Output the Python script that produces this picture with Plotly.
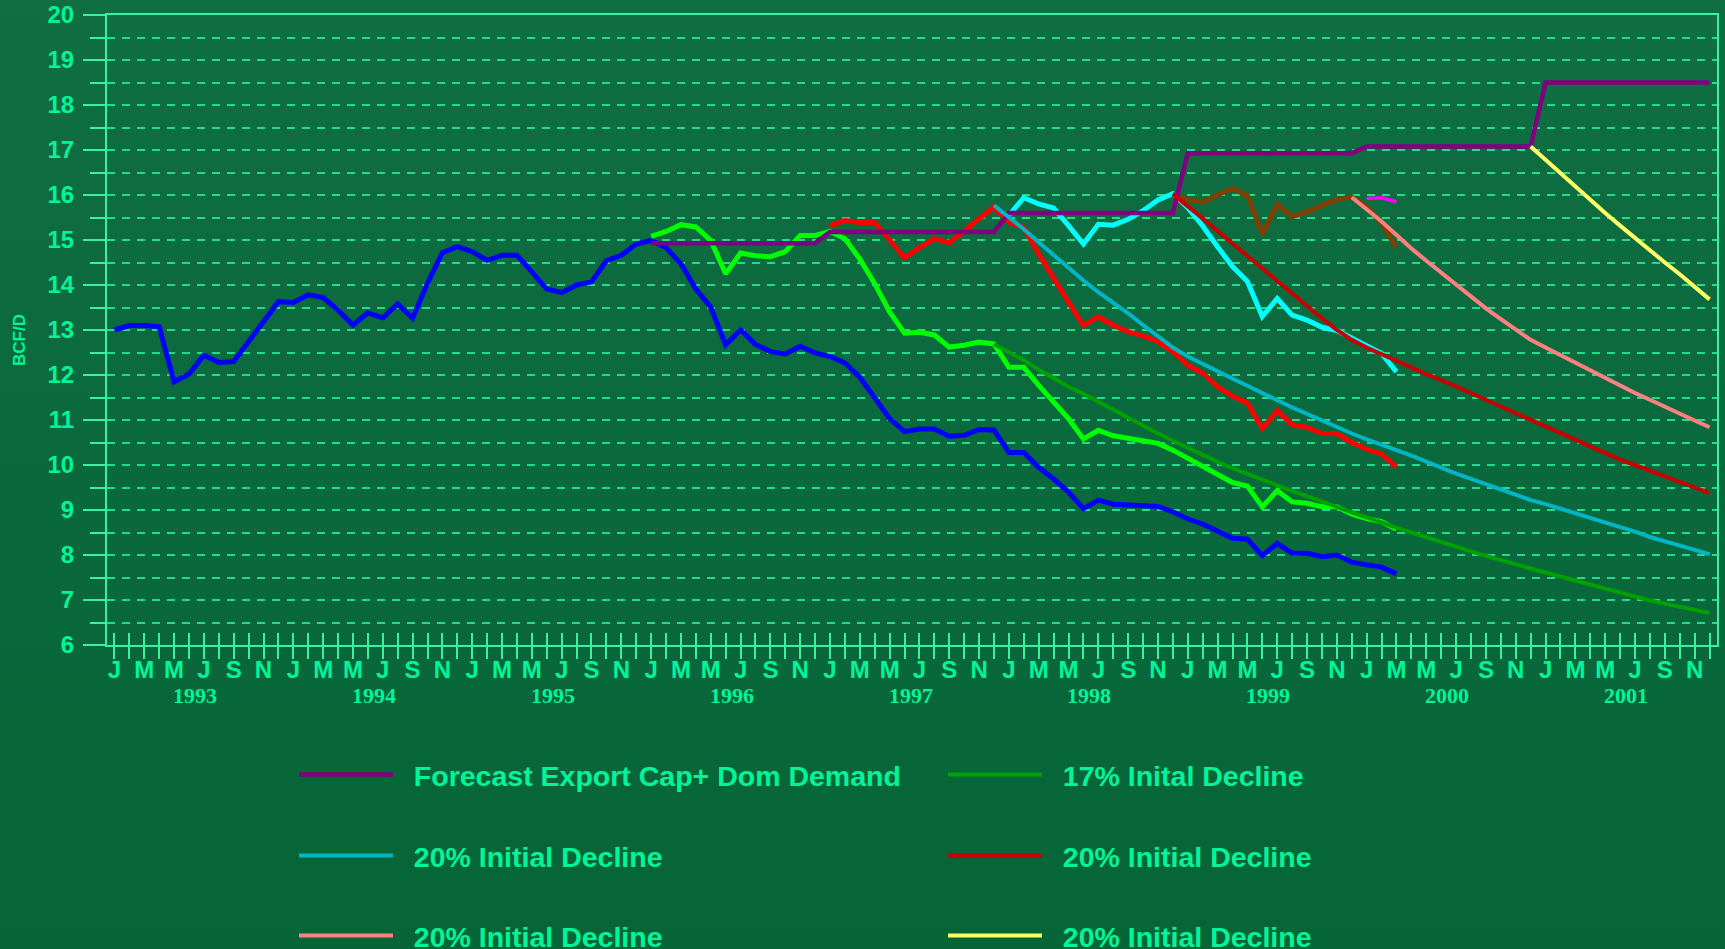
import base64
import plotly.graph_objects as go

# ---------------- data ----------------
month_letters = ["J", "F", "M", "A", "M", "J", "J", "A", "S", "O", "N", "D"]
years = [1993, 1994, 1995, 1996, 1997, 1998, 1999, 2000, 2001]
n_months = 108
month_index = list(range(n_months))
month_labels = [month_letters[i % 12] if i % 2 == 0 else "" for i in month_index]

# actual production series (BCF/D), month index 0 = Jan 1993
blue_start = 0
blue = [13.00, 13.10, 13.10, 13.07, 11.85, 12.02, 12.44, 12.28, 12.30, 12.74,
        13.18, 13.63, 13.61, 13.78, 13.72, 13.44, 13.11, 13.38, 13.27, 13.58,
        13.26, 14.04, 14.72, 14.85, 14.74, 14.55, 14.66, 14.66, 14.29, 13.91,
        13.83, 14.00, 14.07, 14.54, 14.66, 14.91, 14.99, 14.83, 14.47, 13.91,
        13.51, 12.67, 13.00, 12.68, 12.52, 12.47, 12.64, 12.49, 12.41, 12.27,
        11.95, 11.51, 11.03, 10.74, 10.80, 10.80, 10.64, 10.66, 10.79, 10.78,
        10.28, 10.28, 9.95, 9.69, 9.40, 9.03, 9.22, 9.13, 9.11, 9.10,
        9.08, 8.96, 8.80, 8.69, 8.52, 8.37, 8.35, 7.99, 8.26, 8.04,
        8.04, 7.96, 8.00, 7.84, 7.78, 7.73, 7.58]

lime_start = 36
lime = [15.08, 15.19, 15.34, 15.29, 14.99, 14.25, 14.71, 14.65, 14.63, 14.74,
        15.10, 15.10, 15.19, 15.03, 14.58, 14.03, 13.40, 12.93, 12.95, 12.89,
        12.62, 12.66, 12.73, 12.69, 12.17, 12.17, 11.77, 11.40, 11.03, 10.58,
        10.77, 10.65, 10.59, 10.54, 10.48, 10.33, 10.15, 10.00, 9.80, 9.61,
        9.53, 9.07, 9.43, 9.18, 9.15, 9.07, 9.07, 8.91, 8.81, 8.74, 8.57]

red_start = 48
red = [15.32, 15.43, 15.39, 15.39, 15.00, 14.60, 14.83, 15.03, 14.94, 15.21,
       15.47, 15.74, 15.39, 15.28, 14.69, 14.14, 13.62, 13.10, 13.29, 13.11,
       12.96, 12.87, 12.74, 12.52, 12.22, 12.04, 11.74, 11.53, 11.38, 10.81,
       11.21, 10.89, 10.84, 10.70, 10.70, 10.50, 10.35, 10.24, 9.96]

cyan_start = 60
cyan = [15.55, 15.94, 15.80, 15.71, 15.32, 14.91, 15.35, 15.33, 15.46, 15.65,
        15.89, 16.03, 15.72, 15.31, 14.85, 14.41, 14.08, 13.30, 13.70, 13.33,
        13.22, 13.06, 12.99, 12.81, 12.63, 12.48, 12.07]

brown_start = 71
brown = [16.02, 15.89, 15.85, 16.00, 16.15, 15.98, 15.13, 15.79, 15.52, 15.63,
         15.76, 15.90, 15.96, 15.74, 15.37, 14.83]

magenta_start = 84
magenta = [15.92, 15.94, 15.85]

# forecast and decline curves
forecast_start = 36
forecast = [14.93, 14.93, 14.93, 14.93, 14.93, 14.93, 14.93, 14.93, 14.93, 14.93, 14.93, 14.93,
            15.18, 15.18, 15.18, 15.18, 15.18, 15.18, 15.18, 15.18, 15.18, 15.18, 15.18, 15.18,
            15.60, 15.60, 15.60, 15.60, 15.60, 15.60, 15.60, 15.60, 15.60, 15.60, 15.60, 15.60,
            16.93, 16.93, 16.93, 16.93, 16.93, 16.93, 16.93, 16.93, 16.93, 16.93, 16.93, 16.93,
            17.08, 17.08, 17.08, 17.08, 17.08, 17.08, 17.08, 17.08, 17.08, 17.08, 17.08, 17.08,
            18.50, 18.50, 18.50, 18.50, 18.50, 18.50, 18.50, 18.50, 18.50, 18.50, 18.50, 18.50]

decl17_start = 59
decl17 = [12.69, 12.51, 12.33, 12.12, 11.93, 11.74, 11.58, 11.40, 11.22, 11.04,
          10.87, 10.70, 10.54, 10.38, 10.24, 10.07, 9.93, 9.80, 9.67, 9.54,
          9.42, 9.31, 9.20, 9.07, 8.95, 8.83, 8.72, 8.61, 8.50, 8.39,
          8.28, 8.18, 8.08, 7.98, 7.88, 7.79, 7.70, 7.61, 7.52, 7.43,
          7.34, 7.25, 7.15, 7.07, 6.99, 6.92, 6.85, 6.78, 6.71]

decl_teal_start = 59
decl_teal = [15.77, 15.51, 15.24, 14.95, 14.66, 14.37, 14.10, 13.84, 13.61, 13.37,
             13.11, 12.85, 12.61, 12.41, 12.24, 12.07, 11.92, 11.76, 11.61, 11.44,
             11.28, 11.13, 10.98, 10.84, 10.70, 10.57, 10.44, 10.33, 10.21, 10.07,
             9.94, 9.81, 9.69, 9.57, 9.44, 9.33, 9.22, 9.13, 9.03, 8.92,
             8.81, 8.72, 8.62, 8.52, 8.40, 8.30, 8.21, 8.12, 8.02]

decl_red_start = 71
decl_red = [16.02, 15.76, 15.48, 15.20, 14.92, 14.64, 14.36, 14.08, 13.80, 13.53,
            13.26, 13.00, 12.78, 12.61, 12.46, 12.31, 12.17, 12.02, 11.89, 11.75,
            11.60, 11.45, 11.30, 11.15, 11.00, 10.85, 10.70, 10.56, 10.42, 10.27,
            10.12, 10.00, 9.87, 9.75, 9.63, 9.50, 9.38]

decl_salmon_start = 83
decl_salmon = [15.95, 15.68, 15.41, 15.11, 14.81, 14.54, 14.27, 14.01, 13.74, 13.48,
               13.24, 13.00, 12.78, 12.61, 12.44, 12.27, 12.10, 11.92, 11.75, 11.60,
               11.45, 11.29, 11.14, 10.99, 10.84]

decl_yellow_start = 95
decl_yellow = [17.08, 16.78, 16.48, 16.18, 15.89, 15.60, 15.32, 15.04, 14.77, 14.50,
               14.24, 13.95, 13.68]

legend_names = ["Forecast Export Cap+ Dom Demand", "17% Inital Decline",
                "20% Initial Decline", "20% Initial Decline",
                "20% Initial Decline", "20% Initial Decline"]

# ---------------- style ----------------
TEXT = "#00f59b"
AXIS = "#3cf0a0"
GRID = "#22dc8c"
FONT = "Liberation Sans, Arial, sans-serif"
SERIF = "Liberation Serif, Times New Roman, serif"
BG_TOP, BG_BOTTOM = "#0f6e42", "#056537"

W, H = 1725, 949
L, R, T, B = 107, 8, 15, 304
PW, PH = W - L - R, H - T - B


def xs(start, vals):
    return month_index[start:start + len(vals)]


fig = go.Figure()

actual = [
    (blue_start, blue, "#0000ff", 5),
    (lime_start, lime, "#00ff00", 5),
    (red_start, red, "#ff0000", 5),
    (cyan_start, cyan, "#00ffff", 5),
    (brown_start, brown, "#7f3f00", 5),
]
for start, vals, color, width in actual:
    fig.add_trace(go.Scatter(x=xs(start, vals), y=vals, mode="lines",
                             line=dict(color=color, width=width),
                             showlegend=False, hoverinfo="skip"))

legend_series = [
    (forecast_start, forecast, "#800080", 4.5),
    (decl17_start, decl17, "#00a000", 4),
    (decl_teal_start, decl_teal, "#00b5c5", 4),
    (decl_red_start, decl_red, "#c80000", 4),
    (decl_salmon_start, decl_salmon, "#ff8080", 4),
    (decl_yellow_start, decl_yellow, "#ffff66", 4),
]
legend_ids = ["legend", "legend2", "legend3", "legend4", "legend5", "legend6"]
for k, (start, vals, color, width) in enumerate(legend_series):
    fig.add_trace(go.Scatter(x=xs(start, vals), y=vals, mode="lines",
                             name="\u00a0\u00a0" + legend_names[k],
                             line=dict(color=color, width=width),
                             legend=legend_ids[k], hoverinfo="skip"))

# magenta on the overlay axis (carries the inside tick marks)
fig.add_trace(go.Scatter(x=xs(magenta_start, magenta), y=magenta, mode="lines",
                         line=dict(color="#ff00ff", width=3.5), xaxis="x2", yaxis="y",
                         showlegend=False, hoverinfo="skip"))

# legend placement: 2 columns x 3 rows
col_x = [300, 949]
row_y = [775, 856, 936]
legend_layout = {}
for k, lid in enumerate(legend_ids):
    cx = col_x[k % 2]
    cy = row_y[k // 2]
    legend_layout[lid] = dict(
        x=(cx - L - 6) / PW, y=(H - B - cy) / PH, xref="paper", yref="paper",
        xanchor="left", yanchor="middle", orientation="h",
        bgcolor="rgba(0,0,0,0)", borderwidth=0, itemwidth=94,
        font=dict(family=FONT, size=28.5, color=TEXT, weight="bold"),
    )

# background gradient
svg = (f'<svg xmlns="http://www.w3.org/2000/svg" width="{W}" height="{H}" preserveAspectRatio="none">'
       '<defs><linearGradient id="g" x1="0" y1="0" x2="0" y2="1">'
       f'<stop offset="0" stop-color="{BG_TOP}"/><stop offset="1" stop-color="{BG_BOTTOM}"/>'
       '</linearGradient></defs>'
       f'<rect width="{W}" height="{H}" fill="url(#g)"/></svg>')
bg_src = "data:image/svg+xml;base64," + base64.b64encode(svg.encode()).decode()

annotations = [
    dict(text=str(yr), x=12 * j + 5.4, xref="x", y=(H - B - 695) / PH, yref="paper",
         showarrow=False, font=dict(family=SERIF, size=22, color=TEXT, weight="bold"),
         xanchor="center", yanchor="middle")
    for j, yr in enumerate(years)
]
annotations.append(dict(text="BCF/D", textangle=-90, x=(20 - L) / PW, xref="paper",
                        y=(H - B - 340) / PH, yref="paper", showarrow=False,
                        font=dict(family=FONT, size=17, color=TEXT, weight="bold"),
                        xanchor="center", yanchor="middle"))

fig.update_layout(
    width=W, height=H,
    margin=dict(l=L, r=R, t=T, b=B, autoexpand=False),
    paper_bgcolor="#0a693d",
    plot_bgcolor="rgba(0,0,0,0)",
    images=[dict(source=bg_src, xref="paper", yref="paper", x=-L / PW, y=1 + T / PH,
                 sizex=W / PW, sizey=H / PH, xanchor="left", yanchor="top",
                 sizing="stretch", layer="below")],
    xaxis=dict(range=[-0.5, 107.5], tickmode="array", tickvals=month_index,
               ticktext=month_labels, ticks="outside", ticklen=12, tickwidth=2,
               tickcolor=AXIS, showline=True, linecolor=AXIS, linewidth=2, mirror=True,
               showgrid=False, zeroline=False, ticklabelstandoff=-10,
               tickfont=dict(family=FONT, size=24, color=TEXT, weight="bold")),
    xaxis2=dict(overlaying="x", matches="x", anchor="y", range=[-0.5, 107.5],
                tickmode="array", tickvals=month_index, ticks="inside", ticklen=12,
                tickwidth=2, tickcolor=AXIS, showticklabels=False, showline=False,
                showgrid=False, zeroline=False),
    yaxis=dict(range=[6, 20], tickmode="linear", tick0=6, dtick=1, ticks="outside",
               ticklen=22, tickwidth=2, tickcolor=AXIS, showline=True, linecolor=AXIS,
               linewidth=2, mirror=True, zeroline=False, showgrid=True, gridcolor=GRID,
               gridwidth=1.5, griddash="8px,7px", ticklabelstandoff=4,
               tickfont=dict(family=FONT, size=24, color=TEXT, weight="bold"),
               minor=dict(dtick=0.5, tick0=6, ticks="outside", ticklen=15, tickwidth=2,
                          tickcolor=AXIS, showgrid=True, gridcolor=GRID, gridwidth=1.5,
                          griddash="8px,7px")),
    annotations=annotations,
    **legend_layout,
)

fig.write_html(
    "out.html",
    config={"displayModeBar": False},
    post_script=("document.body.style.margin='0px';"
                 f"document.body.style.background='{BG_BOTTOM}';"),
)
